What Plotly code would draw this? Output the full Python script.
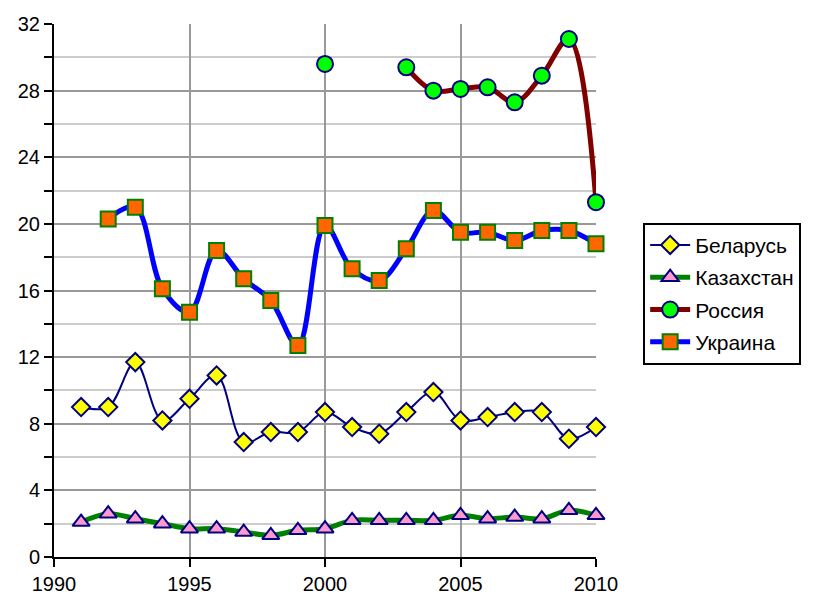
import plotly.graph_objects as go

years = list(range(1991, 2011))

belarus = [9.0, 9.0, 11.7, 8.2, 9.5, 10.9, 6.9, 7.5, 7.5, 8.7,
           7.8, 7.4, 8.7, 9.9, 8.2, 8.4, 8.7, 8.7, 7.1, 7.8]
kazakhstan = [2.1, 2.6, 2.3, 2.0, 1.7, 1.7, 1.5, 1.3, 1.6, 1.7,
              2.2, 2.2, 2.2, 2.2, 2.5, 2.3, 2.4, 2.3, 2.8, 2.5]
russia = [None, None, None, None, None, None, None, None, None, 29.6,
          None, None, 29.4, 28.0, 28.1, 28.2, 27.3, 28.9, 31.1, 21.3]
ukraine = [None, 20.3, 21.0, 16.1, 14.7, 18.4, 16.7, 15.4, 12.7, 19.9,
           17.3, 16.6, 18.5, 20.8, 19.5, 19.5, 19.0, 19.6, 19.6, 18.8]

names = ["Беларусь", "Казахстан", "Россия", "Украина"]

FONT = "Liberation Sans, Arial, sans-serif"

fig = go.Figure()
styles = [
    (belarus, "#000080", 2, "diamond", "#FFFF00", "#000080", 14),
    (kazakhstan, "#008000", 5, "triangle-up", "#FF99CC", "#000080", 15),
    (russia, "#800000", 5, "circle", "#00FF00", "#000080", 16),
    (ukraine, "#0000FF", 5, "square", "#FF6600", "#008000", 15),
]
for name, (vals, lc, lw, sym, fc, bc, ms) in zip(names, styles):
    fig.add_trace(go.Scatter(
        x=years, y=vals, name=name, mode="lines+markers",
        legendgroup=name, cliponaxis=False,
        line=dict(color=lc, width=lw, shape="spline", smoothing=1.0),
        marker=dict(symbol=sym, color=fc, size=ms,
                    line=dict(color=bc, width=2)),
        connectgaps=False,
    ))

fig.update_layout(
    width=816, height=594,
    margin=dict(l=46, r=228, t=16, b=45, autoexpand=False),
    paper_bgcolor="white", plot_bgcolor="white",
    font=dict(family=FONT, size=20, color="black"),
    showlegend=True,
    legend=dict(x=1.087, y=0.627, xanchor="left", yanchor="top",
                bordercolor="black", borderwidth=2,
                font=dict(size=21), traceorder="grouped",
                tracegroupgap=2, itemwidth=40),
    xaxis=dict(range=[1990, 2010], tick0=1990, dtick=5, automargin=False,
               showgrid=True, gridcolor="#999999", gridwidth=2,
               showline=True, linecolor="black", linewidth=2,
               ticks="outside", ticklen=8, tickwidth=2, tickcolor="black",
               zeroline=False, mirror=False),
    yaxis=dict(range=[0, 32], tick0=0, dtick=4, automargin=False,
               showgrid=True, gridcolor="#999999", gridwidth=2,
               showline=True, linecolor="black", linewidth=2,
               ticks="outside", ticklen=8, tickwidth=2, tickcolor="black",
               zeroline=False,
               minor=dict(dtick=2, showgrid=True, gridcolor="#cccccc",
                          gridwidth=2, ticks="outside", ticklen=8,
                          tickwidth=2, tickcolor="black")),
)

fig.write_html("out.html")
